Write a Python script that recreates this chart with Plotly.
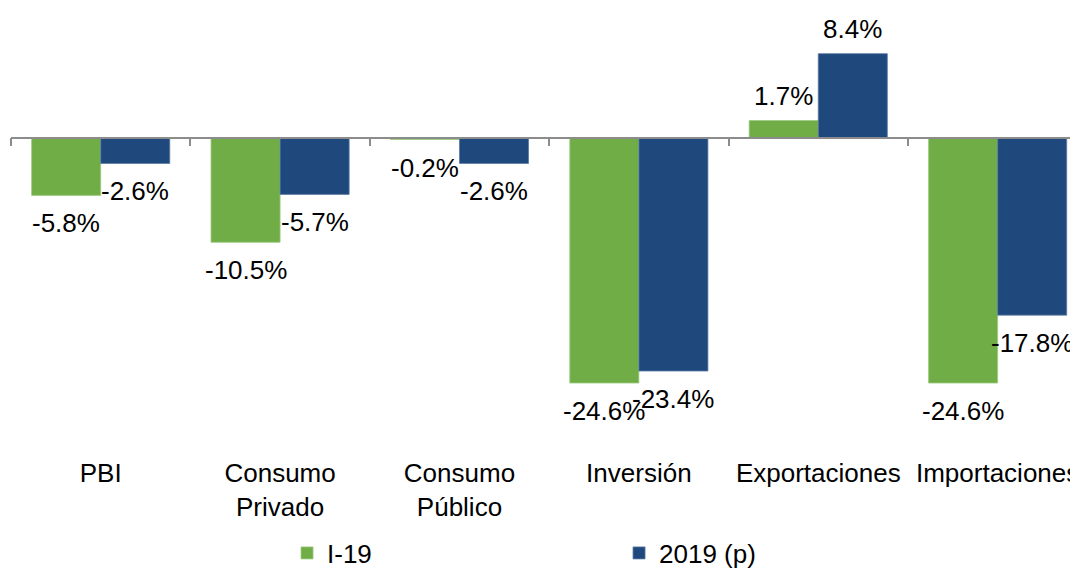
import plotly.graph_objects as go

categories = ["PBI", "Consumo<br>Privado", "Consumo<br>Público", "Inversión", "Exportaciones", "Importaciones"]
s1_name = "I-19"
s1_values = [-5.8, -10.5, -0.2, -24.6, 1.7, -24.6]
s2_name = "2019 (p)"
s2_values = [-2.6, -5.7, -2.6, -23.4, 8.4, -17.8]

GREEN = "#70AD47"
BLUE = "#1F497D"
FONT = "Liberation Sans, Arial, sans-serif"
FS = 26

# page has an 8px body margin; figure sized to fit the window
W, H = 1070, 561
PX_PER = 9.98
zero_px = 129.5
y_max = zero_px / PX_PER
y_min = -(H - zero_px) / PX_PER
zero_frac = (0 - y_min) / (y_max - y_min)
label_axis_frac = (H - 447) / H

fig = go.Figure()
fig.add_trace(go.Bar(x=categories, y=s1_values, name=s1_name,
                     marker=dict(color=GREEN, line=dict(color="#9CC97F", width=0.8))))
fig.add_trace(go.Bar(x=categories, y=s2_values, name=s2_name,
                     marker=dict(color=BLUE, line=dict(color="#5A7AA3", width=0.8))))

annotations = []
for vals, dx in ((s1_values, -34.5), (s2_values, 34.5)):
    for c, v in zip(categories, vals):
        annotations.append(dict(
            x=c, y=v, xref="x", yref="y", text=f"{v:.1f}%", showarrow=False,
            xshift=dx, yshift=(25 if v > 0 else -28),
            font=dict(family=FONT, size=FS, color="black"),
            xanchor="center", yanchor="middle"))

fig.update_layout(
    width=W, height=H,
    margin=dict(l=3, r=0, t=0, b=0, autoexpand=False),
    plot_bgcolor="white", paper_bgcolor="white",
    barmode="group", bargap=0.23, bargroupgap=0,
    font=dict(family=FONT, size=FS, color="black"),
    showlegend=True,
    legend=dict(orientation="h", x=0.2587, xanchor="left", y=(H - 545) / H, yanchor="middle",
                font=dict(family=FONT, size=FS, color="black"),
                entrywidth=287, entrywidthmode="pixels", itemwidth=30,
                traceorder="normal", bgcolor="rgba(0,0,0,0)"),
    annotations=annotations,
    xaxis=dict(range=[-0.5, 5.448], anchor="free", position=label_axis_frac,
               showline=False, ticks="", showgrid=False, zeroline=False,
               tickfont=dict(family=FONT, size=FS, color="black"), automargin=False),
    xaxis2=dict(overlaying="x", matches="x", anchor="free", position=zero_frac,
                side="bottom", showline=True, linecolor="#8C8C8C", linewidth=1.5,
                ticks="outside", ticklen=8, tickcolor="#8C8C8C", tickwidth=1.5,
                tickson="boundaries", showticklabels=False, showgrid=False,
                zeroline=False, type="category", automargin=False),
    yaxis=dict(range=[y_min, y_max], visible=False, showgrid=False, zeroline=False),
)
# invisible carrier for the zero-line axis
fig.add_trace(go.Bar(x=categories, y=[0]*len(categories), xaxis="x2", showlegend=False,
                     hoverinfo="skip", marker=dict(color="rgba(0,0,0,0)")))

fig.write_html("out.html")
